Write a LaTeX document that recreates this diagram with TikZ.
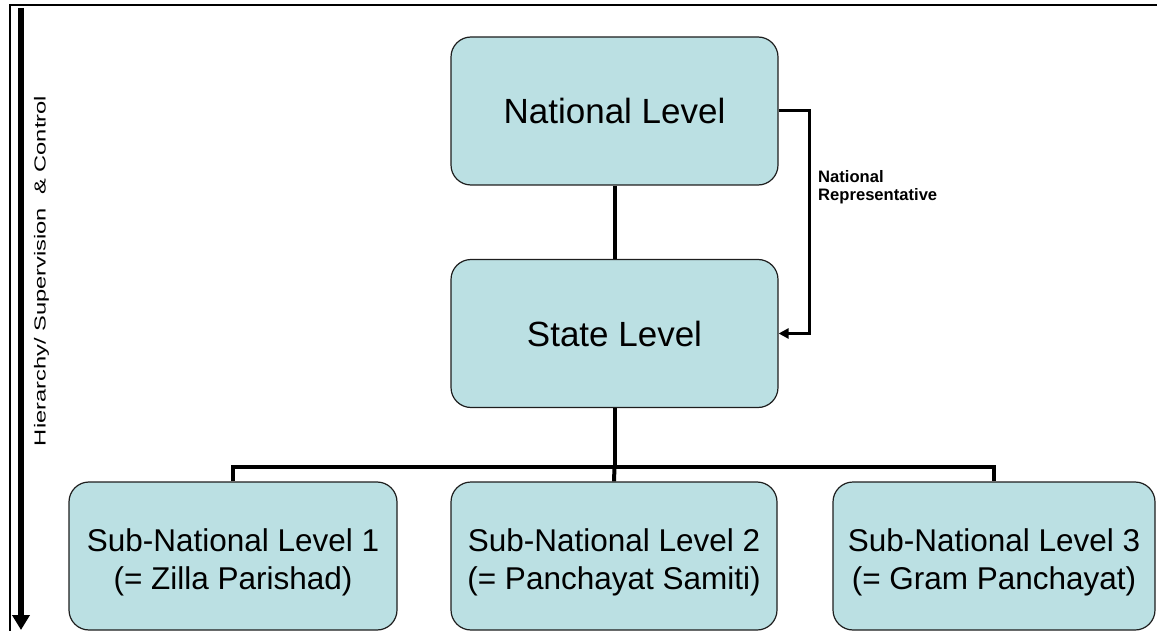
\documentclass[tikz,border=0pt]{standalone}
\usepackage{fontspec}
\setmainfont{Liberation Sans}
\usetikzlibrary{arrows.meta}
\definecolor{boxfill}{RGB}{187,224,227}
\definecolor{boxline}{RGB}{30,30,30}
\begin{document}
\begin{tikzpicture}[x=1pt,y=-1pt,
  levelbox/.style={rectangle, rounded corners=20pt, draw=boxline, line width=1.2pt,
    fill=boxfill, minimum height=148pt, align=center, inner sep=0pt},
  bigtext/.style={font=\fontsize{35}{42}\selectfont},
  subtext/.style={font=\fontsize{31.5}{38}\selectfont, align=center, yshift=-6pt},
  conn/.style={line width=4pt},
  repconn/.style={line width=3pt, -{Triangle[length=10pt,width=10pt]}},
  axis/.style={line width=6pt, -{Triangle[length=15pt,width=17pt]}},
  frame/.style={line width=2pt}
]
\useasboundingbox (0,0) rectangle (1157,631);

% frame
\coordinate (fbl) at (10,631);
\coordinate (ftl) at (10,5);
\coordinate (ftr) at (1157,5);
\draw[frame] (fbl) -- (ftl) -- (ftr);

% hierarchy axis
\coordinate (atop) at (21,8);
\coordinate (abot) at (21,630);
\draw[axis] (atop) -- (abot);
\node[rotate=90, inner sep=0pt, font=\fontsize{16}{18}\selectfont] (axlabel) at (41.5,271)
  {\scalebox{1.48}[1]{Hierarchy/ Supervision\ \ \& Control}};

% boxes
\node[levelbox, bigtext, minimum width=327pt] (nat) at (614.5,111) {National Level};
\node[levelbox, bigtext, minimum width=327pt] (st) at (614.5,333.5) {State Level};
\node[levelbox, minimum width=328pt,
  label={[subtext]center:{Sub-National Level 1\\(= Zilla Parishad)}}] (s1) at (233,556) {};
\node[levelbox, minimum width=326pt,
  label={[subtext]center:{Sub-National Level 2\\(= Panchayat Samiti)}}] (s2) at (614,556) {};
\node[levelbox, minimum width=322pt,
  label={[subtext]center:{Sub-National Level 3\\(= Gram Panchayat)}}] (s3) at (994,556) {};

% connectors
\coordinate (bus) at (614.5,467);
\draw[conn] (nat.south) -- (st.north);
\draw[conn] (st.south) -- (bus);
\draw[conn] (s1.north) |- (bus) -| (s3.north);
\draw[conn] (bus) -- (s2.north);

% national representative
\draw[repconn] (nat.east) -- ++(31,0) |- (st.east);
\node[anchor=north west, align=left, inner sep=0pt,
  font=\fontsize{16.6}{18}\selectfont\bfseries] (replabel) at (818,170)
  {National\\Representative};
\end{tikzpicture}
\end{document}
